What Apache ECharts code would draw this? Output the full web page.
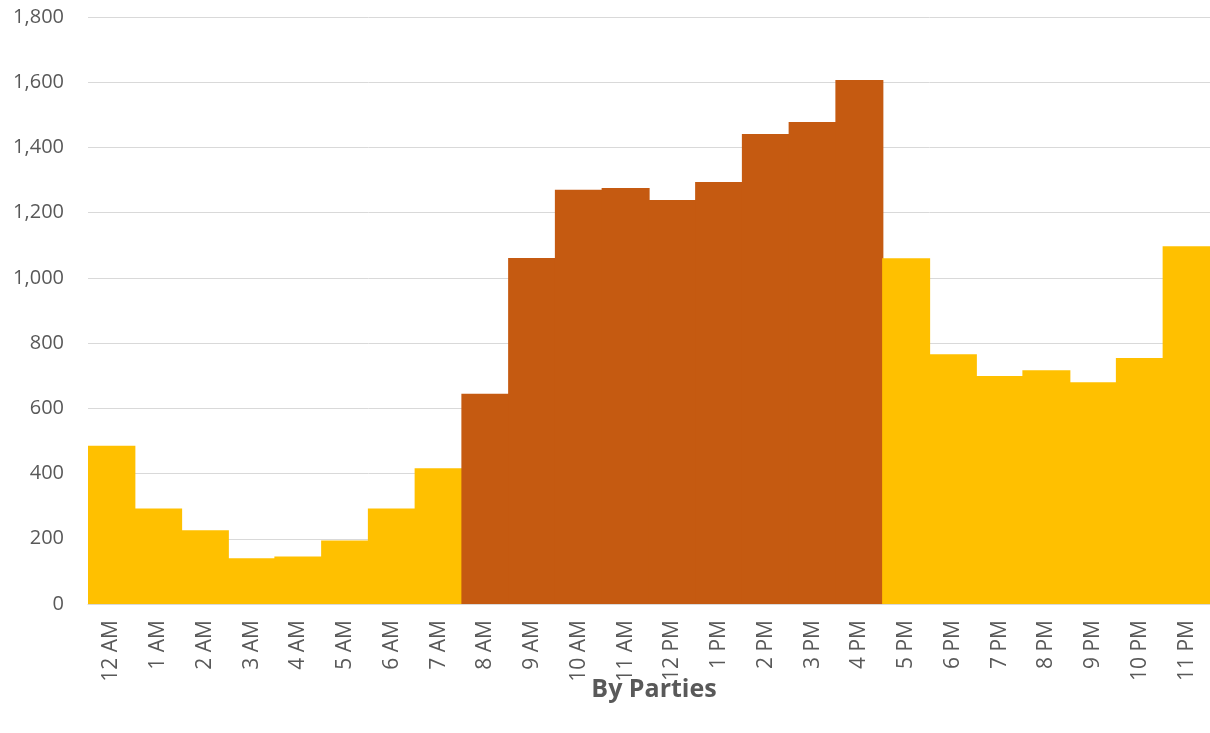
<!DOCTYPE html>
<html>
<head>
<meta charset="utf-8">
<script src="https://cdn.jsdelivr.net/npm/echarts@6/dist/echarts.min.js"></script>
<style>
  html, body { margin: 0; padding: 0; background: #fff; }
  #main { width: 1210px; height: 733px; }
</style>
</head>
<body>
<div id="main"></div>
<script>
// hours of the day
const hours = ['12 AM', '1 AM', '2 AM', '3 AM', '4 AM', '5 AM', '6 AM', '7 AM',
  '8 AM', '9 AM', '10 AM', '11 AM', '12 PM', '1 PM', '2 PM', '3 PM', '4 PM',
  '5 PM', '6 PM', '7 PM', '8 PM', '9 PM', '10 PM', '11 PM'];
const parties = [485, 293, 226, 140, 146, 195, 293, 416,
  645, 1061, 1270, 1276, 1239, 1294, 1441, 1478, 1607,
  1060, 766, 699, 717, 680, 754, 1097];
// 1 = daytime peak (dark), 0 = off hours
const peak = [0, 0, 0, 0, 0, 0, 0, 0,
  1, 1, 1, 1, 1, 1, 1, 1, 1,
  0, 0, 0, 0, 0, 0, 0];

const chart = echarts.init(document.getElementById('main'));
const font = '"Open Sans", "Liberation Sans", sans-serif';

chart.setOption({
  animation: false,
  title: {
    text: 'By Parties',
    left: 649,
    textAlign: 'center',
    top: 672,
    textStyle: { fontFamily: font, fontSize: 25, fontWeight: 'bold', color: '#595959' }
  },
  grid: { left: 88, right: 0, top: 17, bottom: 129 },
  xAxis: {
    type: 'category',
    data: hours,
    axisTick: { show: false },
    axisLine: { lineStyle: { color: '#d9d9d9', width: 1 } },
    axisLabel: {
      rotate: 90,
      interval: 0,
      margin: 16,
      fontFamily: font,
      fontSize: 21,
      color: '#595959'
    }
  },
  yAxis: {
    type: 'value',
    min: 0,
    max: 1800,
    interval: 200,
    axisLine: { show: false },
    axisTick: { show: false },
    splitLine: { lineStyle: { color: '#d9d9d9', width: 1 } },
    axisLabel: {
      margin: 24,
      fontFamily: font,
      fontSize: 20,
      color: '#595959',
      formatter: v => v.toLocaleString('en-US')
    }
  },
  series: [{
    type: 'bar',
    barWidth: 48,   // a little wider than the band so no seams show
    data: parties.map((v, i) => ({
      value: v,
      itemStyle: { color: peak[i] ? '#c55a11' : '#ffc000' }
    }))
  }]
});
</script>
</body>
</html>
